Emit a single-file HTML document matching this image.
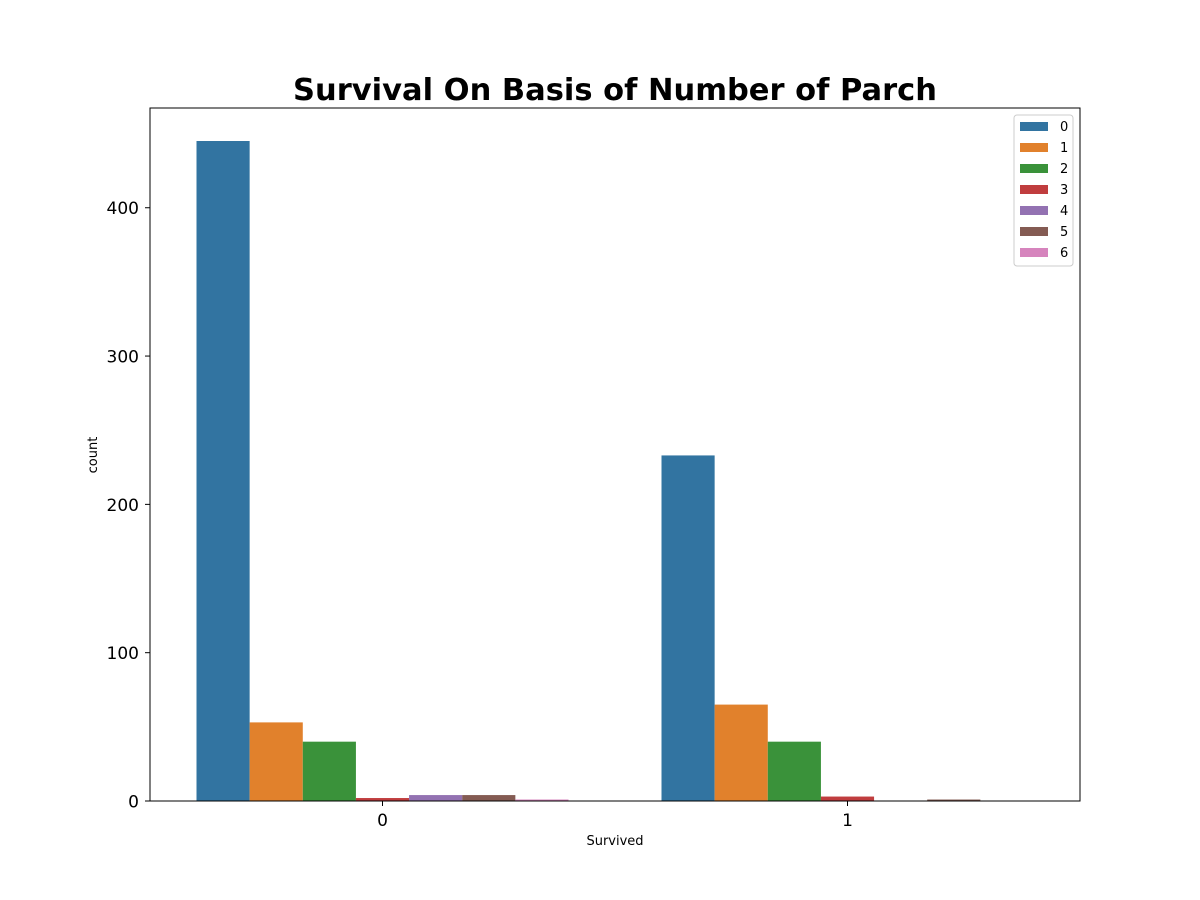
<!DOCTYPE html>
<html><head><meta charset="utf-8"><style>body{margin:0;background:#fff}svg{display:block;font-family:"DejaVu Sans","Liberation Sans",sans-serif}</style></head>
<body>
<svg id="chart" width="1200" height="900" xmlns="http://www.w3.org/2000/svg">
<rect width="1200" height="900" fill="#fff"/>
<text x="615" y="100" text-anchor="middle" font-size="30.5" font-weight="bold">Survival On Basis of Number of Parch</text>
<g id="bars"></g>
<rect x="150" y="108" width="930" height="693" fill="none" stroke="#000" stroke-width="1"/>
<g id="axes"></g>
<text x="615" y="845" text-anchor="middle" font-size="13">Survived</text>
<text transform="translate(97,455) rotate(-90)" text-anchor="middle" font-size="13">count</text>
<g id="legend"></g>
</svg>
<script>
const categories = ["0","1"];
const hues = ["0","1","2","3","4","5","6"];
const seriesDied = [445,53,40,2,4,4,1];
const seriesSurvived = [233,65,40,3,0,1,0];
const yTicks = [0,100,200,300,400];
const colors = ["#3274a1","#e1812c","#3a923a","#c03d3e","#9372b2","#845b53","#d684bd"];
const NS = "http://www.w3.org/2000/svg";
const L=150,R=1080,T=108,B=801,yMax=467.25;
const y = v => B - v/yMax*(B-T);
const xc = i => L + (i+0.5)/2*(R-L);
const bw = (R-L)/2*0.8/hues.length;
const bars=document.getElementById('bars'), axes=document.getElementById('axes'), leg=document.getElementById('legend');
function mk(tag, attrs, parent){const e=document.createElementNS(NS,tag);for(const k in attrs)e.setAttribute(k,attrs[k]);parent.appendChild(e);return e;}
[seriesDied, seriesSurvived].forEach((vals,ci)=>{
  vals.forEach((v,hi)=>{
    const x0 = xc(ci) - bw*hues.length/2 + hi*bw;
    const r = mk('rect',{x:x0,y:y(v),width:bw,height:B-y(v),fill:colors[hi]},bars);
    
    
  });
});
yTicks.forEach(t=>{
  const l=mk('line',{x1:L-5,x2:L,y1:y(t),y2:y(t),stroke:'#000'},axes);
  
  
  const tx=mk('text',{x:L-11,y:y(t)+6.5,'text-anchor':'end','font-size':17},axes);
  tx.textContent=t;
  
  
});
categories.forEach((c,i)=>{
  const l=mk('line',{x1:xc(i),x2:xc(i),y1:B,y2:B+5,stroke:'#000'},axes);
  
  
  const tx=mk('text',{x:xc(i),y:B+25,'text-anchor':'middle','font-size':17},axes);
  tx.textContent=c;
  
  
});
const box=mk('rect',{x:1014,y:115,width:59,height:151,fill:'#fff',stroke:'#ccc',rx:3},leg);


hues.forEach((h,i)=>{
  const yy=126+i*21;
  const p=mk('rect',{x:1020,y:yy-4,width:28,height:9,fill:colors[i]},leg);
  
  
  const tx=mk('text',{x:1060,y:yy+5,'font-size':13},leg);
  tx.textContent=h;
  
  
});
</script>
</body></html>
